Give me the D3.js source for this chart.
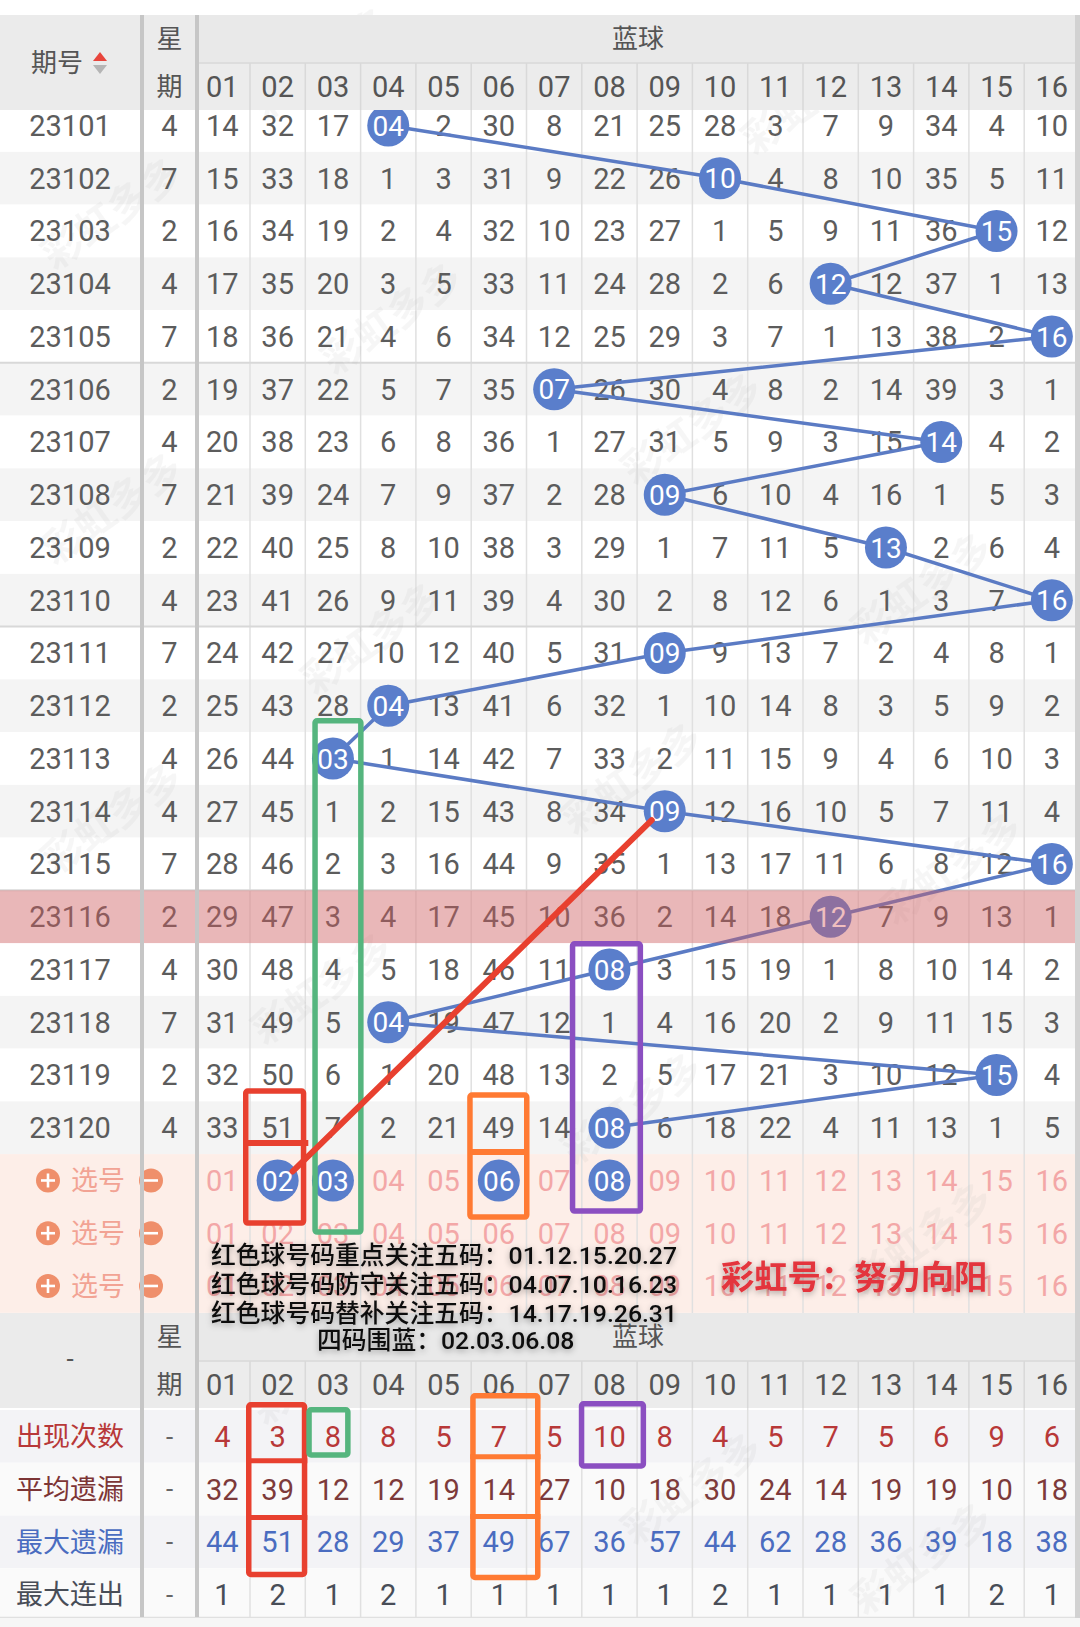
<!DOCTYPE html>
<html><head><meta charset="utf-8">
<script src="https://cdn.jsdelivr.net/npm/d3@7"></script>
<style>
html,body{margin:0;padding:0;background:#fff;}
svg{display:block;font-family:Roboto,"Noto Sans CJK SC",sans-serif;}
</style></head><body>
<svg id="c" width="1080" height="1627"></svg>
<script>
// ---------------- DATA ----------------
const periods = ["23101","23102","23103","23104","23105","23106","23107","23108","23109","23110",
                 "23111","23112","23113","23114","23115","23116","23117","23118","23119","23120"];
const weekdays = [4,7,2,4,7,2,4,7,2,4,7,2,4,4,7,2,4,7,2,4];
const blueBalls = [4,10,15,12,16,7,14,9,13,16,9,4,3,9,16,12,8,4,15,8];
const columns = ["01","02","03","04","05","06","07","08","09","10","11","12","13","14","15","16"];
// omission values per period (0 = drawn number, shown as ball)
const omissions = [
  [14,32,17,0,2,30,8,21,25,28,3,7,9,34,4,10],
  [15,33,18,1,3,31,9,22,26,0,4,8,10,35,5,11],
  [16,34,19,2,4,32,10,23,27,1,5,9,11,36,0,12],
  [17,35,20,3,5,33,11,24,28,2,6,0,12,37,1,13],
  [18,36,21,4,6,34,12,25,29,3,7,1,13,38,2,0],
  [19,37,22,5,7,35,0,26,30,4,8,2,14,39,3,1],
  [20,38,23,6,8,36,1,27,31,5,9,3,15,0,4,2],
  [21,39,24,7,9,37,2,28,0,6,10,4,16,1,5,3],
  [22,40,25,8,10,38,3,29,1,7,11,5,0,2,6,4],
  [23,41,26,9,11,39,4,30,2,8,12,6,1,3,7,0],
  [24,42,27,10,12,40,5,31,0,9,13,7,2,4,8,1],
  [25,43,28,0,13,41,6,32,1,10,14,8,3,5,9,2],
  [26,44,0,1,14,42,7,33,2,11,15,9,4,6,10,3],
  [27,45,1,2,15,43,8,34,0,12,16,10,5,7,11,4],
  [28,46,2,3,16,44,9,35,1,13,17,11,6,8,12,0],
  [29,47,3,4,17,45,10,36,2,14,18,0,7,9,13,1],
  [30,48,4,5,18,46,11,0,3,15,19,1,8,10,14,2],
  [31,49,5,0,19,47,12,1,4,16,20,2,9,11,15,3],
  [32,50,6,1,20,48,13,2,5,17,21,3,10,12,0,4],
  [33,51,7,2,21,49,14,0,6,18,22,4,11,13,1,5]
];
const highlightPeriod = "23116";
const pickRows = ["p1","p2","p3"];
const pickedBalls = [2,3,6,8];
const statLabels = ["出现次数","平均遗漏","最大遗漏","最大连出"];
const appearCount = [4,3,8,8,5,7,5,10,8,4,5,7,5,6,9,6];
const avgMiss = [32,39,12,12,19,14,27,10,18,30,24,14,19,19,10,18];
const maxMiss = [44,51,28,29,37,49,67,36,57,44,62,28,36,39,18,38];
const maxStreak = [1,2,1,2,1,1,1,1,1,2,1,1,1,1,2,1];
const noteLines = ["红色球号码重点关注五码：01.12.15.20.27",
                   "红色球号码防守关注五码：04.07.10.16.23",
                   "红色球号码替补关注五码：14.17.19.26.31"];
const blueNote = "四码围蓝：02.03.06.08";
const signature = "彩虹号：努力向阳";

// ---------------- LAYOUT ----------------
const svg = d3.select("#c");
const W = 1075;
const rowH = 52.75;
const gridTop = 99.1;
const x = d3.scaleBand().domain(d3.range(1,17)).range([194.7, 194.7 + 16*55.3]);
const bw = x.bandwidth();
const y = d3.scaleBand().domain(periods.concat(pickRows)).range([gridTop, gridTop + 23*rowH]);
const bh = y.bandwidth();
const ys = d3.scaleBand().domain(statLabels).range([1410, 1410 + 4*rowH]);
const cx = c => x(c) + bw/2;
const cy = p => y(p) + bh/2;
const COLX = 70, WEEKX = 169.5;
const textColor = "#5c5c5c";

const defs = svg.append("defs");
const f = defs.append("filter").attr("id","sh").attr("x","-10%").attr("y","-40%").attr("width","120%").attr("height","180%");
f.append("feDropShadow").attr("dx",0).attr("dy",2).attr("stdDeviation",3).attr("flood-color","#000").attr("flood-opacity",0.35);

// row backgrounds
svg.append("g").selectAll("rect").data(periods).join("rect")
  .attr("x",0).attr("y",d=>y(d)).attr("width",W).attr("height",bh)
  .attr("fill",(d,i)=> i%2 ? "#f4f4f4" : "#ffffff");
svg.append("g").selectAll("rect").data(pickRows).join("rect")
  .attr("x",0).attr("y",d=>y(d)).attr("width",W).attr("height",bh+0.5)
  .attr("fill","#fdeee8");
// stat rows backgrounds
svg.append("g").selectAll("rect").data(statLabels).join("rect")
  .attr("x",0).attr("y",d=>ys(d)).attr("width",W).attr("height",ys.bandwidth())
  .attr("fill",(d,i)=> i%2 ? "#fafafa" : "#f3f3f6");

// vertical grid lines in number area
const vg = svg.append("g").attr("stroke","#e0e0e0").attr("stroke-width",1.5);
d3.range(2,17).forEach(c=>{
  vg.append("line").attr("x1",x(c)).attr("x2",x(c)).attr("y1",63).attr("y2",1617);
});
// group separators every 5 rows
svg.append("g").selectAll("line").data([5,10,15]).join("line")
  .attr("x1",0).attr("x2",W).attr("y1",d=>y(periods[d])).attr("y2",d=>y(periods[d]))
  .attr("stroke","#d8d8d8").attr("stroke-width",2);

// watermarks (faint, behind content)
const wm = [[330,75],[820,110],[120,225],[400,330],[700,440],[120,520],[930,600],[380,650],[640,790],[120,830],[330,1000],[960,880],[640,1120],[930,1250],[330,1380],[700,1500],[930,1570]];
svg.append("g").selectAll("text").data(wm).join("text")
  .attr("transform",d=>`translate(${d[0]},${d[1]}) rotate(-35)`)
  .attr("text-anchor","middle").attr("font-size",40).attr("font-weight","bold")
  .attr("fill","#9a9a9a").attr("opacity",0.08).text("彩虹多多");

// data cells text
const cellFont = 29;
const tg = svg.append("g").attr("font-size",cellFont).attr("text-anchor","middle").attr("fill",textColor);
periods.forEach((p,i)=>{
  tg.append("text").attr("x",COLX).attr("y",cy(p)).attr("dy","0.36em").text(p);
  tg.append("text").attr("x",WEEKX).attr("y",cy(p)).attr("dy","0.36em").text(weekdays[i]);
  omissions[i].forEach((v,j)=>{
    if (v === 0) return;
    tg.append("text").attr("x",cx(j+1)).attr("y",cy(p)).attr("dy","0.36em").text(v);
  });
});

// pick rows
const pg = svg.append("g");
pickRows.forEach((r,ri)=>{
  const yy = cy(r);
  pg.append("circle").attr("cx",48).attr("cy",yy).attr("r",12).attr("fill","#ef8f6b");
  pg.append("line").attr("x1",41).attr("x2",55).attr("y1",yy).attr("y2",yy).attr("stroke","#fff").attr("stroke-width",2.6);
  pg.append("line").attr("x1",48).attr("x2",48).attr("y1",yy-7).attr("y2",yy+7).attr("stroke","#fff").attr("stroke-width",2.6);
  pg.append("text").attr("x",98).attr("y",yy).attr("dy","0.36em").attr("text-anchor","middle")
    .attr("font-size",27).attr("fill","#f2a394").text("选号");
  pg.append("circle").attr("cx",151).attr("cy",yy).attr("r",12).attr("fill","#ef8f6b");
  pg.append("line").attr("x1",144).attr("x2",158).attr("y1",yy).attr("y2",yy).attr("stroke","#fff").attr("stroke-width",2.6);
  columns.forEach((c,j)=>{
    if (ri===0 && pickedBalls.includes(j+1)) return;
    pg.append("text").attr("x",cx(j+1)).attr("y",yy).attr("dy","0.36em").attr("text-anchor","middle")
      .attr("font-size",cellFont).attr("fill","#f3a7a7").text(c);
  });
});

// trend line
const pts = periods.map((p,i)=>({p, c: blueBalls[i]}));
svg.append("path").datum(pts)
  .attr("d", d3.line().x(d=>cx(d.c)).y(d=>cy(d.p)))
  .attr("fill","none").attr("stroke","#5b7bc4").attr("stroke-width",3.5);
// balls
const bg = svg.append("g");
pts.forEach(d=>{
  bg.append("circle").attr("cx",cx(d.c)).attr("cy",cy(d.p)).attr("r",21).attr("fill","#5a7ecb");
  bg.append("text").attr("x",cx(d.c)).attr("y",cy(d.p)).attr("dy","0.36em").attr("text-anchor","middle")
    .attr("font-size",28).attr("fill","#fff").text(columns[d.c-1]);
});
pickedBalls.forEach(c=>{
  bg.append("circle").attr("cx",cx(c)).attr("cy",cy("p1")).attr("r",21).attr("fill","#5a7ecb");
  bg.append("text").attr("x",cx(c)).attr("y",cy("p1")).attr("dy","0.36em").attr("text-anchor","middle")
    .attr("font-size",28).attr("fill","#fff").text(columns[c-1]);
});

// highlight row overlay
svg.append("rect").attr("x",0).attr("y",y(highlightPeriod)).attr("width",W).attr("height",bh)
  .attr("fill","rgb(218,92,96)").attr("opacity",0.4);

// ---------- headers ----------
function header(top, withSort){
  const g = svg.append("g");
  g.append("rect").attr("x",0).attr("y",top).attr("width",W).attr("height",48).attr("fill","#e9e9e9");
  g.append("rect").attr("x",0).attr("y",top+48).attr("width",W).attr("height",47).attr("fill","#ececec");
  g.append("rect").attr("x",0).attr("y",top).attr("width",195).attr("height",95).attr("fill","#ebebeb");
  g.append("line").attr("x1",197).attr("x2",W).attr("y1",top+48).attr("y2",top+48).attr("stroke","#d8d8d8").attr("stroke-width",1.5);
  d3.range(2,17).forEach(c=>{
    g.append("line").attr("x1",x(c)).attr("x2",x(c)).attr("y1",top+48).attr("y2",top+95).attr("stroke","#d9d9d9").attr("stroke-width",1.5);
  });
  const t = g.append("g").attr("fill","#555").attr("text-anchor","middle");
  if (withSort){
    t.append("text").attr("x",57).attr("y",top+48).attr("dy","0.36em").attr("font-size",26).text("期号");
    g.append("path").attr("d",`M100,${top+37}L107,${top+46}L93,${top+46}Z`).attr("fill","#e8453c");
    g.append("path").attr("d",`M93,${top+50}L107,${top+50}L100,${top+59}Z`).attr("fill","#b5b5b5");
  } else {
    t.append("text").attr("x",COLX).attr("y",top+46).attr("dy","0.36em").attr("font-size",26).text("-");
  }
  t.append("text").attr("x",WEEKX).attr("y",top+24).attr("dy","0.36em").attr("font-size",26).text("星");
  t.append("text").attr("x",WEEKX).attr("y",top+72).attr("dy","0.36em").attr("font-size",26).text("期");
  t.append("text").attr("x",638).attr("y",top+24).attr("dy","0.36em").attr("font-size",26).text("蓝球");
  columns.forEach((c,j)=>{
    t.append("text").attr("x",cx(j+1)).attr("y",top+72).attr("dy","0.36em").attr("font-size",cellFont).text(c);
  });
}
header(15, true);
header(1313, false);

// stats rows
const sg = svg.append("g").attr("text-anchor","middle");
const statSeries = [appearCount, avgMiss, maxMiss, maxStreak];
const labelColors = ["#b83838","#7d3535","#4a6cc0","#484d57"];
const valueColors = ["#b83838","#7d3a3a","#4a6cc0","#484d57"];
statLabels.forEach((lab,i)=>{
  const yy = ys(lab) + ys.bandwidth()/2;
  sg.append("text").attr("x",COLX).attr("y",yy).attr("dy","0.36em").attr("font-size",27).attr("fill",labelColors[i]).text(lab);
  sg.append("text").attr("x",WEEKX).attr("y",yy).attr("dy","0.36em").attr("font-size",26).attr("fill","#666").text("-");
  statSeries[i].forEach((v,j)=>{
    sg.append("text").attr("x",cx(j+1)).attr("y",yy).attr("dy","0.36em").attr("font-size",cellFont).attr("fill",valueColors[i]).text(v);
  });
});
svg.append("line").attr("x1",0).attr("x2",W).attr("y1",1617.5).attr("y2",1617.5).attr("stroke","#e0e0e0").attr("stroke-width",1.5);
svg.append("rect").attr("x",0).attr("y",1618).attr("width",1080).attr("height",9).attr("fill","#f6f6f6");

// thick column separators
svg.append("g").selectAll("line").data([142, 197]).join("line")
  .attr("x1",d=>d).attr("x2",d=>d).attr("y1",15).attr("y2",1617)
  .attr("stroke","#c6c6c6").attr("stroke-width",4);
// right strip
svg.append("rect").attr("x",1075).attr("y",15).attr("width",5).attr("height",1603).attr("fill","#d2d2d2");

// ---------- annotations ----------
const an = svg.append("g").attr("fill","none").attr("stroke-linejoin","round");
function box(x0,y0,x1,y1,color,sw){
  an.append("rect").attr("x",x0+sw/2).attr("y",y0+sw/2).attr("width",x1-x0-sw).attr("height",y1-y0-sw)
    .attr("rx",2).attr("stroke",color).attr("stroke-width",sw);
}
function hline(x0,x1,yy,color,sw){
  an.append("line").attr("x1",x0).attr("x2",x1).attr("y1",yy).attr("y2",yy).attr("stroke",color).attr("stroke-width",sw);
}
const RED="#e8402f", GREEN="#55b57e", ORANGE="#ff7a33", PURPLE="#8b4fc1";
box(x(2)-7, y("23120")-13, x(2)+bw+1, y("p1")+bh+19, RED, 5.5);
hline(x(2)-3, x(2)+bw+3, y("p1")-11, RED, 6);
box(x(3)+7, y("23113")-14, x(3)+bw+3, y("p1")+bh+28, GREEN, 5.5);
box(x(6)-4, y("23120")-9, x(6)+bw+3, y("p1")+bh+13, ORANGE, 5.5);
hline(x(6)-1, x(6)+bw+1, y("p1")-2, ORANGE, 6);
box(x(8)-12, y("23117")-2, x(8)+bw+6, y("p1")+bh+7, PURPLE, 5.5);
an.append("line").attr("x1",cx(9)-13).attr("y1",cy("23114")+9).attr("x2",cx(2)+15).attr("y2",cy("p1")-9)
  .attr("stroke",RED).attr("stroke-width",6).attr("stroke-linecap","round");
box(x(2)-4, ys("出现次数")-8, x(2)+bw+2, ys("最大遗漏")+ys.bandwidth()+9, RED, 5.5);
hline(x(2)-4, x(2)+bw+2, ys("平均遗漏")-2, RED, 5);
hline(x(2)-4, x(2)+bw+2, ys("最大遗漏")+2, RED, 5);
box(x(3)+1, ys("出现次数")-3, x(3)+bw-10, ys("出现次数")+ys.bandwidth()-5, GREEN, 5.5);
box(x(6)-1, ys("出现次数")-17, x(6)+bw+14, ys("最大遗漏")+ys.bandwidth()+12, ORANGE, 5.5);
hline(x(6)-1, x(6)+bw+14, ys("平均遗漏")-6, ORANGE, 5);
hline(x(6)-1, x(6)+bw+14, ys("最大遗漏")+1, ORANGE, 5);
box(x(8)-3, ys("出现次数")-9, x(8)+bw+9, ys("出现次数")+ys.bandwidth()+6, PURPLE, 5.5);

// ---------- overlay texts ----------
const ot = svg.append("g").attr("filter","url(#sh)");
noteLines.forEach((s,i)=>{
  ot.append("text").attr("x",211).attr("y",1255 + i*28.8).attr("dy","0.36em")
    .attr("font-size",24.8).attr("font-weight",500).attr("fill","#111").text(s);
});
ot.append("text").attr("x",317).attr("y",1340).attr("dy","0.36em")
  .attr("font-size",24.8).attr("font-weight",500).attr("fill","#111").text(blueNote);
ot.append("text").attr("x",721).attr("y",1277).attr("dy","0.36em")
  .attr("font-size",33.3).attr("font-weight","bold").attr("fill","#e3343c").text(signature);
</script>
</body></html>
